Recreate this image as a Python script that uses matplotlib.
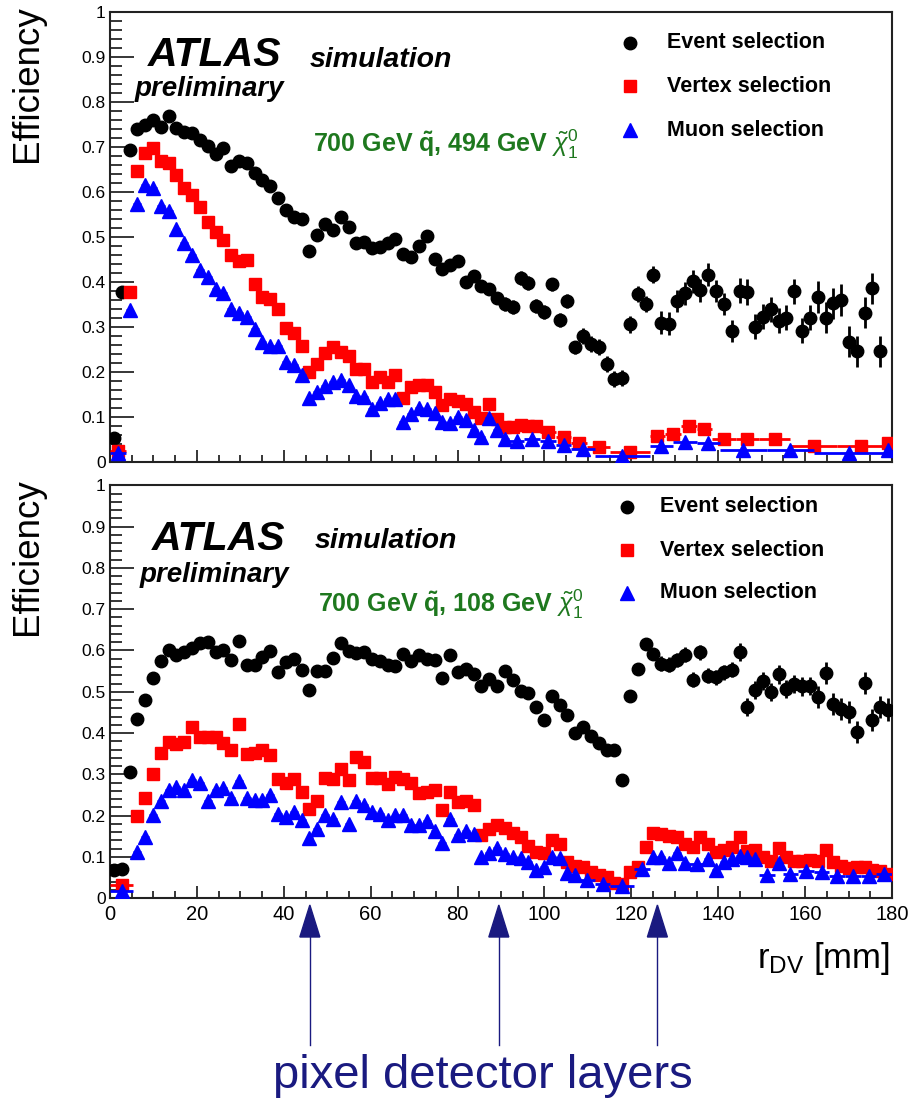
import numpy as np
import matplotlib
matplotlib.use('Agg')
import matplotlib.pyplot as plt
from matplotlib.patches import Polygon
from matplotlib.lines import Line2D
from matplotlib import transforms
from matplotlib.ticker import MultipleLocator, FuncFormatter

plt.rcParams['font.family'] = ['Liberation Sans', 'DejaVu Sans']
plt.rcParams['mathtext.fontset'] = 'custom'
plt.rcParams['mathtext.rm'] = 'Liberation Sans'
plt.rcParams['mathtext.it'] = 'Liberation Sans:italic'
plt.rcParams['mathtext.bf'] = 'Liberation Sans:bold'

W, H = 908, 1104
BIN = 1.8  # 100 bins of r_DV between 0 and 180 mm
nan = np.nan

# ---- top panel: 700 GeV squark, 494 GeV neutralino ----
top_event = [
    0.052, 0.377, 0.692, 0.739, 0.748, 0.759, 0.744, 0.768, 0.742, 0.733,
    0.731, 0.715, 0.702, 0.684, 0.697, 0.658, 0.669, 0.663, 0.641, 0.625,
    0.612, 0.585, 0.560, 0.544, 0.539, 0.469, 0.504, 0.528, 0.515, 0.543,
    0.522, 0.487, 0.489, 0.474, 0.477, 0.487, 0.494, 0.462, 0.456, 0.479,
    0.502, 0.451, 0.428, 0.438, 0.447, 0.399, 0.413, 0.391, 0.383, 0.364,
    0.350, 0.344, 0.408, 0.397, 0.346, 0.333, 0.394, 0.315, 0.357, 0.254,
    0.280, 0.261, 0.254, 0.217, 0.184, 0.186, 0.305, 0.372, 0.350, 0.416,
    0.309, 0.307, 0.357, 0.374, 0.401, 0.381, 0.416, 0.379, 0.350, 0.291,
    0.380, 0.377, 0.300, 0.322, 0.339, 0.313, 0.320, 0.379, 0.291, 0.320,
    0.366, 0.320, 0.352, 0.359, 0.267, 0.245, 0.331, 0.385, 0.245, nan]
# error size per block of 10 bins
top_event_err = [0.005, 0.006, 0.008, 0.010, 0.012, 0.015, 0.018, 0.025, 0.028, 0.035]

# bin edges in units of BIN (variable binning for vertex / muon curves)
top_vertex_edges = [0] + list(range(2, 56)) + [57, 59, 61, 64, 69, 71, 73, 75, 77, 80, 83, 87, 93, 99, 100]
top_vertex = [
    0.023,
    0.377, 0.645, 0.685, 0.697, 0.669, 0.663, 0.638, 0.609, 0.592, 0.565,
    0.533, 0.511, 0.493, 0.460, 0.445, 0.449, 0.394, 0.367, 0.362, 0.340,
    0.298, 0.287, 0.258, 0.199, 0.217, 0.242, 0.254, 0.243, 0.234, 0.205,
    0.205, 0.176, 0.188, 0.178, 0.193, 0.142, 0.166, 0.170, 0.171, 0.155,
    0.127, 0.140, 0.134, 0.129, 0.111, 0.098, 0.129, 0.095, 0.078, 0.076,
    0.081, 0.080, 0.079,
    0.067, 0.054, 0.041, 0.032, 0.022, 0.056, 0.061, 0.080, 0.073, 0.050,
    0.051, 0.050, 0.034, 0.034, 0.041]
top_muon_edges = [0] + list(range(2, 52)) + [53, 55, 57, 59, 62, 69, 72, 75, 78, 84, 90, 99, 100]
top_muon = [
    0.019,
    0.337, 0.572, 0.614, 0.609, 0.568, 0.557, 0.518, 0.487, 0.460, 0.427,
    0.410, 0.383, 0.374, 0.339, 0.331, 0.322, 0.295, 0.265, 0.258, 0.256,
    0.221, 0.215, 0.193, 0.142, 0.155, 0.168, 0.177, 0.182, 0.170, 0.146,
    0.144, 0.118, 0.131, 0.140, 0.139, 0.089, 0.107, 0.120, 0.117, 0.109,
    0.089, 0.085, 0.100, 0.093, 0.070, 0.054, 0.097, 0.070, 0.050,
    0.047, 0.051, 0.045, 0.037, 0.029, 0.012, 0.035, 0.044, 0.041, 0.026,
    0.026, 0.020, 0.025]

# ---- bottom panel: 700 GeV squark, 108 GeV neutralino ----
bot_event = [
    0.068, 0.070, 0.306, 0.435, 0.481, 0.534, 0.574, 0.600, 0.588, 0.596,
    0.606, 0.617, 0.620, 0.596, 0.601, 0.577, 0.622, 0.566, 0.566, 0.585,
    0.598, 0.547, 0.572, 0.580, 0.553, 0.505, 0.551, 0.550, 0.582, 0.617,
    0.598, 0.593, 0.596, 0.580, 0.574, 0.566, 0.563, 0.592, 0.574, 0.590,
    0.580, 0.576, 0.534, 0.590, 0.547, 0.556, 0.542, 0.513, 0.531, 0.513,
    0.550, 0.529, 0.501, 0.497, 0.463, 0.432, 0.491, 0.467, 0.445, 0.400,
    0.415, 0.394, 0.376, 0.360, 0.360, 0.287, 0.491, 0.556, 0.616, 0.592,
    0.568, 0.566, 0.577, 0.590, 0.529, 0.596, 0.539, 0.535, 0.547, 0.553,
    0.596, 0.463, 0.505, 0.526, 0.499, 0.542, 0.507, 0.518, 0.513, 0.515,
    0.487, 0.545, 0.471, 0.459, 0.451, 0.402, 0.521, 0.432, 0.464, 0.457]
bot_event_err = [0.005, 0.006, 0.007, 0.008, 0.010, 0.012, 0.014, 0.018, 0.022, 0.027]

bot_vertex_edges = [0] + list(range(3, 101))
bot_vertex = [
    0.032,
    0.199, 0.244, 0.302, 0.351, 0.378, 0.373, 0.378, 0.415, 0.390, 0.390,
    0.390, 0.376, 0.360, 0.423, 0.349, 0.352, 0.360, 0.346, 0.290, 0.279,
    0.290, 0.258, 0.217, 0.236, 0.292, 0.290, 0.312, 0.287, 0.341, 0.330,
    0.292, 0.292, 0.276, 0.294, 0.290, 0.279, 0.255, 0.257, 0.263, 0.215,
    0.257, 0.233, 0.236, 0.225, 0.153, 0.167, 0.177, 0.171, 0.157, 0.148,
    0.126, 0.113, 0.109, 0.140, 0.131, 0.088, 0.079, 0.075, 0.063, 0.056,
    0.052, 0.036, 0.035, 0.063, 0.076, 0.125, 0.158, 0.155, 0.150, 0.148,
    0.131, 0.125, 0.148, 0.131, 0.112, 0.117, 0.124, 0.149, 0.115, 0.117,
    0.099, 0.091, 0.121, 0.100, 0.091, 0.091, 0.092, 0.091, 0.118, 0.087,
    0.077, 0.074, 0.076, 0.075, 0.068, 0.066, 0.059]
bot_muon_edges = ([0] + list(range(3, 61)) + [62, 64, 67, 69, 70, 71, 72, 73, 74, 76]
                  + list(range(77, 84)) + [85, 86, 88, 90, 92, 94, 96, 98, 100])
bot_muon = [
    0.018,
    0.113, 0.149, 0.201, 0.236, 0.262, 0.270, 0.263, 0.286, 0.279, 0.236,
    0.263, 0.266, 0.244, 0.284, 0.244, 0.239, 0.239, 0.250, 0.205, 0.196,
    0.209, 0.189, 0.147, 0.167, 0.201, 0.191, 0.233, 0.179, 0.236, 0.225,
    0.209, 0.204, 0.189, 0.201, 0.201, 0.177, 0.177, 0.187, 0.163, 0.134,
    0.193, 0.153, 0.163, 0.155, 0.099, 0.109, 0.121, 0.107, 0.099, 0.097,
    0.088, 0.068, 0.076, 0.100, 0.097, 0.062, 0.057,
    0.045, 0.035, 0.030, 0.070,
    0.100, 0.099, 0.086, 0.109, 0.085, 0.083,
    0.094, 0.068, 0.089, 0.094, 0.102, 0.099, 0.094,
    0.056, 0.085,
    0.060, 0.067, 0.063, 0.054, 0.053, 0.053, 0.058]

pixel_layers = [46.0, 89.5, 126.0]

GREEN = '#1e781e'
NAVY = '#1a1a80'


def px(x, y):
    return x / W, 1 - y / H


def draw_panel(ax, event, event_err, vtx_edges, vtx, mu_edges, mu):
    x = (np.arange(len(event)) + 0.5) * BIN
    err = np.repeat(event_err, 10)
    ax.errorbar(x, event, yerr=err, fmt='o', color='black', ms=9, elinewidth=2,
                capsize=0, zorder=3)
    for edges, vals, color, marker, ms in [(vtx_edges, vtx, 'red', 's', 8.5),
                                           (mu_edges, mu, 'blue', '^', 10)]:
        e = np.asarray(edges) * BIN
        xc = (e[:-1] + e[1:]) / 2
        xw = (e[1:] - e[:-1]) / 2
        ax.errorbar(xc, vals, xerr=xw, fmt=marker, color=color, ms=ms,
                    elinewidth=2, capsize=0, zorder=4 if color == 'blue' else 3.5)
    ax.set_xlim(0, 180)
    ax.set_ylim(0, 1)
    ax.xaxis.set_major_locator(MultipleLocator(20))
    ax.xaxis.set_minor_locator(MultipleLocator(5))
    ax.yaxis.set_major_locator(MultipleLocator(0.1))
    ax.yaxis.set_minor_locator(MultipleLocator(0.02))
    ax.yaxis.set_major_formatter(FuncFormatter(lambda v, p: f'{v:g}'))
    ax.tick_params(axis='y', which='major', direction='in', length=17, width=1.1,
                   labelsize=12.5, pad=3)
    ax.tick_params(axis='y', which='minor', direction='in', length=8.5, width=1.1)
    ax.tick_params(axis='x', which='major', direction='in', length=9, width=1.1,
                   labelsize=14.5, pad=5)
    ax.tick_params(axis='x', which='minor', direction='in', length=5, width=1.1)
    for s in ax.spines.values():
        s.set_linewidth(1.5)
        s.set_color('#222222')


fig = plt.figure(figsize=(W / 100, H / 100), dpi=100)
ax1 = fig.add_axes([110 / W, 1 - 461.7 / H, 782 / W, 450 / H])
ax2 = fig.add_axes([110 / W, 1 - 898.3 / H, 782 / W, 413 / H])

assert len(top_vertex) == len(top_vertex_edges) - 1
assert len(top_muon) == len(top_muon_edges) - 1
assert len(bot_vertex) == len(bot_vertex_edges) - 1
assert len(bot_muon) == len(bot_muon_edges) - 1

draw_panel(ax1, top_event, top_event_err, top_vertex_edges, top_vertex, top_muon_edges, top_muon)
draw_panel(ax2, bot_event, bot_event_err, bot_vertex_edges, bot_vertex, bot_muon_edges, bot_muon)
ax1.tick_params(axis='x', labelbottom=False)

# labels and titles
for ytop in (5, 478):
    fig.text(*px(27, ytop), 'Efficiency', rotation=90, ha='center', va='top', fontsize=26.5)

panels = [
    dict(atlas=(148, 66), sim=(310, 67), prel=(135, 96), green=(313, 152),
         mass='494', leg_x=(630, 667), leg_y=(43, 86, 130)),
    dict(atlas=(152, 550), sim=(315, 548), prel=(140, 582), green=(318, 612),
         mass='108', leg_x=(627, 660), leg_y=(507, 550, 593)),
]
legend_entries = [('Event selection', 'black', 'o', 9),
                  ('Vertex selection', 'red', 's', 8.5),
                  ('Muon selection', 'blue', '^', 9.5)]
for p in panels:
    fig.text(*px(*p['atlas']), 'ATLAS', fontsize=29.5, fontweight='bold', style='italic', va='baseline')
    fig.text(*px(*p['sim']), 'simulation', fontsize=20.5, fontweight='bold', style='italic', va='baseline')
    fig.text(*px(*p['prel']), 'preliminary', fontsize=20, fontweight='bold', style='italic', va='baseline')
    fig.text(*px(*p['green']),
             r'700 GeV $\mathbf{\tilde{q}}$, ' + p['mass'] + r' GeV $\tilde{\chi}^{0}_{1}$',
             fontsize=18, fontweight='bold', color=GREEN, va='baseline')
    for (label, color, marker, ms), ly in zip(legend_entries, p['leg_y']):
        fig.add_artist(Line2D([p['leg_x'][0] / W], [1 - ly / H], marker=marker, ms=ms,
                              color=color, linestyle='none', transform=fig.transFigure))
        fig.text(*px(p['leg_x'][1], ly), label, fontsize=15.5, fontweight='bold', va='center')

fig.text(*px(890, 968), r'r$_{\mathrm{DV}}$ [mm]', fontsize=25, ha='right', va='baseline')

# pixel detector layer arrows
trans = transforms.blended_transform_factory(ax2.transData, fig.transFigure)
for r in pixel_layers:
    tip, base, end = 1 - 905 / H, 1 - 937 / H, 1 - 1045 / H
    head = Polygon([(r - 2.3, base), (r + 2.3, base), (r, tip)], closed=True,
                   facecolor=NAVY, edgecolor=NAVY, transform=trans, clip_on=False)
    fig.add_artist(head)
    fig.add_artist(Line2D([r, r], [base, end], color=NAVY, lw=1, transform=trans))

fig.text(*px(483, 1088), 'pixel detector layers', fontsize=34, color=NAVY,
         ha='center', va='baseline')

fig.savefig('out.png', dpi=100)
